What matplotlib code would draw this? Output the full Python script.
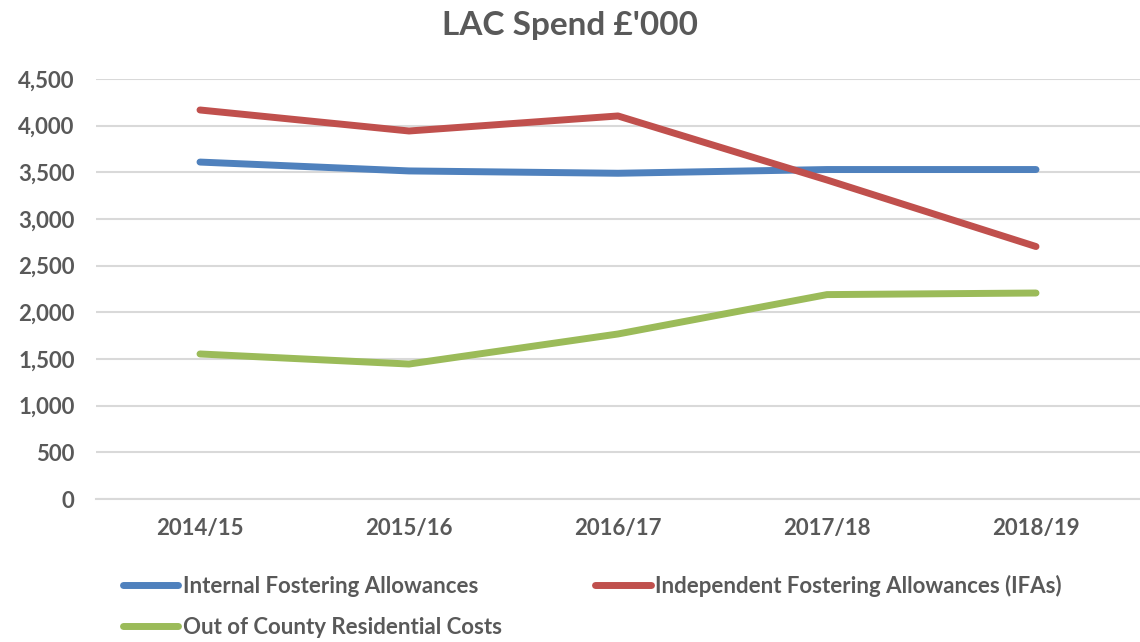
import matplotlib
matplotlib.use("Agg")
import matplotlib.pyplot as plt
from matplotlib.ticker import FuncFormatter

plt.rcParams['font.family'] = ['Lato', 'DejaVu Sans']
plt.rcParams['font.weight'] = 'bold'

# data
years = ["2014/15", "2015/16", "2016/17", "2017/18", "2018/19"]
internal = [3610, 3515, 3490, 3530, 3530]
independent = [4168, 3943, 4104, 3418, 2705]
out_of_county = [1554, 1446, 1768, 2190, 2207]

grey = "#595959"

fig = plt.figure(figsize=(11.4, 6.42), dpi=100)
ax = fig.add_axes([95.5 / 1140, 1 - 499 / 642, 1045 / 1140, 420 / 642])

x = list(range(len(years)))
l1, = ax.plot(x, internal, color="#4f81bd", lw=5, solid_capstyle="round", label="Internal Fostering Allowances")
l2, = ax.plot(x, independent, color="#c0504d", lw=5, solid_capstyle="round", label="Independent Fostering Allowances (IFAs)")
l3, = ax.plot(x, out_of_county, color="#9bbb59", lw=5, solid_capstyle="round", label="Out of County Residential Costs")

ax.set_xlim(-0.5, len(years) - 0.5)
ax.set_ylim(0, 4500)
ax.set_yticks(range(0, 4501, 500))
ax.yaxis.set_major_formatter(FuncFormatter(lambda v, p: f"{int(v):,}"))
ax.set_xticks(x)
ax.set_xticklabels(years)

ax.grid(axis="y", color="#d9d9d9", lw=1.5)
ax.set_axisbelow(True)
for s in ["top", "right", "left"]:
    ax.spines[s].set_visible(False)
ax.spines["bottom"].set_color("#d9d9d9")
ax.spines["bottom"].set_linewidth(1.5)
ax.tick_params(axis="both", length=0, colors=grey, labelsize=16)
ax.tick_params(axis="y", pad=15)
ax.tick_params(axis="x", pad=14)

fig.text(0.5, 1 - 25 / 642, "LAC Spend £'000", ha="center", va="center",
         fontsize=24, fontweight="bold", color=grey)

leg = fig.legend([l1, l3, l2], [l1.get_label(), l3.get_label(), l2.get_label()],
                 ncol=2, loc="upper left", bbox_to_anchor=(114 / 1140, 1 - 566 / 642),
                 frameon=False, fontsize=16, handlelength=2.5, handletextpad=0.2,
                 columnspacing=4.2, labelspacing=0.9, borderaxespad=0)
for t in leg.get_texts():
    t.set_color(grey)

fig.savefig("out.png", dpi=100)
